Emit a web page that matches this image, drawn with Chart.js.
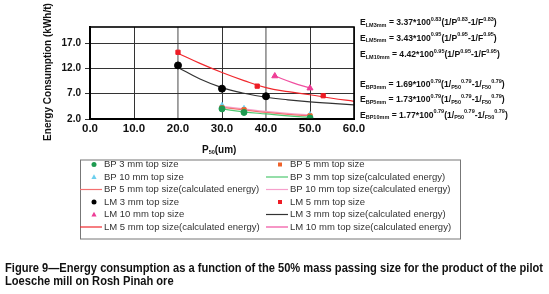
<!DOCTYPE html>
<html>
<head>
<meta charset="utf-8">
<script src="https://cdn.jsdelivr.net/npm/chart.js@4.4.1/dist/chart.umd.min.js"></script>
<style>
body{margin:0;background:#fff;}
#wrap{position:relative;width:549px;height:294px;overflow:hidden;}
#caption{position:absolute;left:5px;top:262px;font:bold 12px Arial,"Liberation Sans",sans-serif;line-height:13px;color:#111;white-space:nowrap;transform-origin:0 0;}
</style>
</head>
<body>
<div id="wrap">
<canvas id="energyChart" width="549" height="294"></canvas>
<div id="caption"><span id="capLine1">Figure 9&#8212;Energy consumption as a function of the 50% mass passing size for the product of the pilot</span><br>Loesche mill on Rosh Pinah ore</div>
</div>
<script>
(function () {

/* ----------- DATA ----------- */

const xTicks = [0, 10, 20, 30, 40, 50, 60];
const yTicks = [2, 7, 12, 17];

// measured points, BP = ball mill / LM = Loesche mill
const pBP3 = [30, 35, 50];
const eBP3 = [4.0, 3.3, 2.2];
const pBP5 = [30, 35, 50];
const eBP5 = [4.2, 3.8, 2.6];
const pBP10 = [30, 35, 50];
const eBP10 = [4.6, 4.0, 2.8];

const pLM3 = [20, 30, 40];
const eLM3 = [12.6, 8.0, 6.5];
const pLM5 = [20, 38, 53];
const eLM5 = [15.2, 8.5, 6.6];
const pLM10 = [42, 50];
const eLM10 = [10.5, 8.1];

// calculated energy curves
const pCalcBP = [30, 35, 40, 45, 50];
const eCalcBP3 = [4.0, 3.4, 3.0, 2.6, 2.3];
const eCalcBP5 = [4.3, 3.8, 3.3, 2.9, 2.6];
const eCalcBP10 = [4.5, 4.0, 3.5, 3.1, 2.8];

const pCalcLM = [20, 25, 30, 35, 40, 45, 50, 55, 60];
const eCalcLM3 = [12.2, 9.9, 8.2, 7.1, 6.3, 5.8, 5.4, 5.1, 4.8];
const eCalcLM5 = [15.0, 13.0, 11.2, 9.6, 8.2, 7.4, 6.8, 6.1, 5.5];
const pCalcLM10 = [42, 46, 50];
const eCalcLM10 = [10.5, 9.2, 8.1];

function pts(xs, ys){
return xs.map((x,i)=>({x:x, y:ys[i]}));
}

function marker(label, xs, ys, color, style, r){
return {label, data:pts(xs,ys), showLine:false, pointStyle:style,
pointRadius:r, pointBackgroundColor:color, pointBorderColor:color, borderColor:color, backgroundColor:color, isMarker:true};
}

function curve(label, xs, ys, color){
return {label, data:pts(xs,ys), showLine:true, pointRadius:0, borderColor:color,
backgroundColor:color, borderWidth:1.2, tension:0.4, fill:false, isMarker:false};
}

// order = legend order (row by row, two columns)
const datasets = [
marker('BP 3 mm top size', pBP3, eBP3, '#1e9a50', 'circle', 3),
marker('BP 5 mm top size', pBP5, eBP5, '#f0622a', 'rect', 3),
marker('BP 10 mm top size', pBP10, eBP10, '#6ccfee', 'triangle', 3.5),
curve('BP 3 mm top size(calculated energy)', pCalcBP, eCalcBP3, '#4fc870'),
curve('BP 5 mm top size(calculated energy)', pCalcBP, eCalcBP5, '#f47070'),
curve('BP 10 mm top size(calculated energy)', pCalcBP, eCalcBP10, '#f6a0cc'),
marker('LM 3 mm top size', pLM3, eLM3, '#000000', 'circle', 3.5),
marker('LM 5 mm top size', pLM5, eLM5, '#ee1c25', 'rect', 3),
marker('LM 10 mm top size', pLM10, eLM10, '#ee3d96', 'triangle', 3.5),
curve('LM 3 mm top size(calculated energy)', pCalcLM, eCalcLM3, '#333333'),
curve('LM 5 mm top size(calculated energy)', pCalcLM, eCalcLM5, '#f0282d'),
curve('LM 10 mm top size(calculated energy)', pCalcLM10, eCalcLM10, '#f050a0')
];

// draw curves under the markers
datasets.forEach(d=>{ d.order = d.isMarker ? 0 : 1; });

/* ----------- RICH TEXT (sub / sup) ----------- */

function rich(ctx, x, y, parts, size){
size = size || 8.6;
let cx = x;
parts.forEach(p=>{
const t = p[0], k = p[1] || 'n';
let dy = 0;
if(k==='n'){ ctx.font = 'bold '+size+'px Arial, "Liberation Sans", sans-serif'; }
else { ctx.font = 'bold 5.5px Arial, "Liberation Sans", sans-serif'; dy = (k==='sub') ? 2 : -4; }
ctx.fillText(t, cx, y+dy);
cx += ctx.measureText(t).width;
});
}

function eqLM(name, k, n){
return [['E'],[name,'sub'],[' = '+k+'*100'],[n,'sup'],['(1/P'],[n,'sup'],['-1/F'],[n,'sup'],[')']];
}
function eqBP(name, k, n){
return [['E'],[name,'sub'],[' = '+k+'*100'],[n,'sup'],['(1/'],['P50','sub'],[n,'sup'],['-1/'],['F50','sub'],[n,'sup'],[')']];
}

const equations = [
{y:23, parts:eqLM('LM3mm','3.37','0.83')},
{y:38.5, parts:eqLM('LM5mm','3.43','0.95')},
{y:55, parts:eqLM('LM10mm','4.42','0.95')},
{y:85, parts:eqBP('BP3mm','1.69','0.79')},
{y:100, parts:eqBP('BP5mm','1.73','0.79')},
{y:115.5, parts:eqBP('BP10mm','1.77','0.79')}
];

/* ----------- CUSTOM PLUGIN: frame, titles, equations, legend ----------- */

const extras = {
id:'extras',
afterDraw(chart){
const {ctx, chartArea:a} = chart;
ctx.save();

/* plot frame */
ctx.strokeStyle='#000';
ctx.lineWidth=1.6;
ctx.strokeRect(a.left, a.top, a.right-a.left, a.bottom-a.top);

/* axis titles */
ctx.fillStyle='#111';
ctx.textBaseline='middle';
ctx.save();
ctx.translate(48, 72);
ctx.rotate(-Math.PI/2);
ctx.textAlign='center';
ctx.font='bold 10px Arial, "Liberation Sans", sans-serif';
ctx.fillText('Energy Consumption (kWh/t)', 0, 0);
ctx.restore();

ctx.textAlign='left';
rich(ctx, 202, 150, [['P'],['50','sub'],['(um)']], 10);

/* equations */
equations.forEach(e=>rich(ctx, 360, e.y, e.parts));

/* legend box */
const bx=80, by=159.5, bw=380, bh=79;
ctx.strokeStyle='#777';
ctx.lineWidth=1;
ctx.strokeRect(bx+0.5, by+0.5, bw, bh);

const rowY=[164.5, 177, 189.5, 202, 214.5, 227];
const colX=[[94,104],[280,290]];
ctx.font='9.5px Arial, "Liberation Sans", sans-serif';
chart.data.datasets.forEach((d,i)=>{
const row=Math.floor(i/2), col=i%2;
const y=rowY[row], mx=colX[col][0], tx=colX[col][1];
if(d.isMarker){
ctx.fillStyle=d.pointBackgroundColor;
ctx.beginPath();
if(d.pointStyle==='circle'){ ctx.arc(mx, y, 2.5, 0, Math.PI*2); }
else if(d.pointStyle==='rect'){ ctx.rect(mx-2, y-2, 4, 4); }
else { ctx.moveTo(mx, y-2.8); ctx.lineTo(mx+2.6, y+2); ctx.lineTo(mx-2.6, y+2); ctx.closePath(); }
ctx.fill();
}else{
ctx.strokeStyle=d.borderColor;
ctx.lineWidth=1.2;
ctx.beginPath();
ctx.moveTo(tx-24, y);
ctx.lineTo(tx-2, y);
ctx.stroke();
}
ctx.fillStyle='#333';
ctx.fillText(d.label, tx, y);
});

ctx.restore();
}
};

/* ----------- CHART ----------- */

function gridColor(c){
const v = c.tick ? c.tick.value : null;
return (v===20 || v===40) ? '#9a9a9a' : '#333';
}
function gridWidth(c){
const v = c.tick ? c.tick.value : null;
return (v===20 || v===40) ? 1.8 : 1;
}

new Chart(document.getElementById('energyChart').getContext('2d'),{
type:'scatter',
data:{datasets:datasets},
options:{
responsive:false,
animation:false,
layout:{padding:{left:0, top:27, right:195, bottom:155}},
scales:{
x:{
type:'linear', min:0, max:60,
afterBuildTicks(s){ s.ticks = xTicks.map(v=>({value:v})); },
afterFit(s){ s.height = 20; },
grid:{color:gridColor, lineWidth:gridWidth, drawTicks:false},
border:{color:'#000', width:2},
ticks:{padding:3, color:'#111', font:{family:'Arial', size:11.5, weight:'bold'},
callback:v=>Number(v).toFixed(1)}
},
y:{
type:'linear', min:2, max:20.2,
afterBuildTicks(s){ s.ticks = yTicks.map(v=>({value:v})); },
afterFit(s){ s.width = 90; },
grid:{color:'#333', lineWidth:1, tickLength:5},
border:{color:'#000', width:2},
ticks:{padding:4, color:'#111', font:{family:'Arial', size:10, weight:'bold'},
callback:v=>Number(v).toFixed(1)}
}
},
plugins:{
legend:{display:false},
tooltip:{enabled:false}
}
},
plugins:[extras]
});

/* squeeze the caption so its first line fits like the condensed original */
const cap = document.getElementById('caption');
const w1 = document.getElementById('capLine1').getBoundingClientRect().width;
cap.style.transform = 'scaleX(' + (538 / w1) + ')';

})();
</script>
</body>
</html>
